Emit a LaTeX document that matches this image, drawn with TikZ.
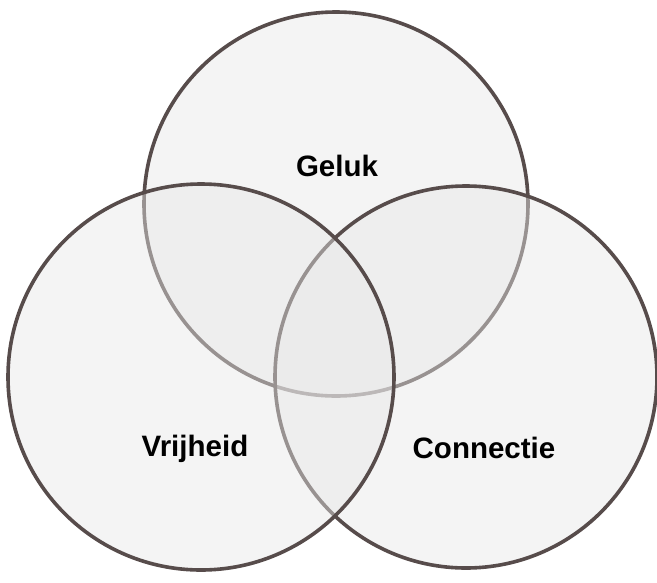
\documentclass[tikz,border=0pt]{standalone}
\usepackage{fontspec}
\setmainfont{Liberation Sans}
\begin{document}
\begin{tikzpicture}[x=1pt,y=-1pt,
  venn/.style={circle, draw=ringcol, line width=3.6pt, fill=black!9, fill opacity=0.45, draw opacity=1, inner sep=0pt},
  lbl/.style={font=\fontsize{29.5}{34}\selectfont\bfseries, text=black, inner sep=0pt}]
\definecolor{ringcol}{HTML}{574C4B}
\useasboundingbox (0,0) rectangle (657,582);
\fill[white] (0,0) rectangle (657,582);
\node[venn, minimum size=384pt] (top) at (336,204) {};
\node[venn, minimum size=382pt] (right) at (466,377) {};
\node[venn, minimum size=386pt] (left) at (201,377) {};
\node[lbl] (geluk) at (337,166) {Geluk};
\node[lbl] (vrij) at (195,449) {Vrijheid};
\node[lbl] (conn) at (484,448) {Connectie};
\end{tikzpicture}
\end{document}
